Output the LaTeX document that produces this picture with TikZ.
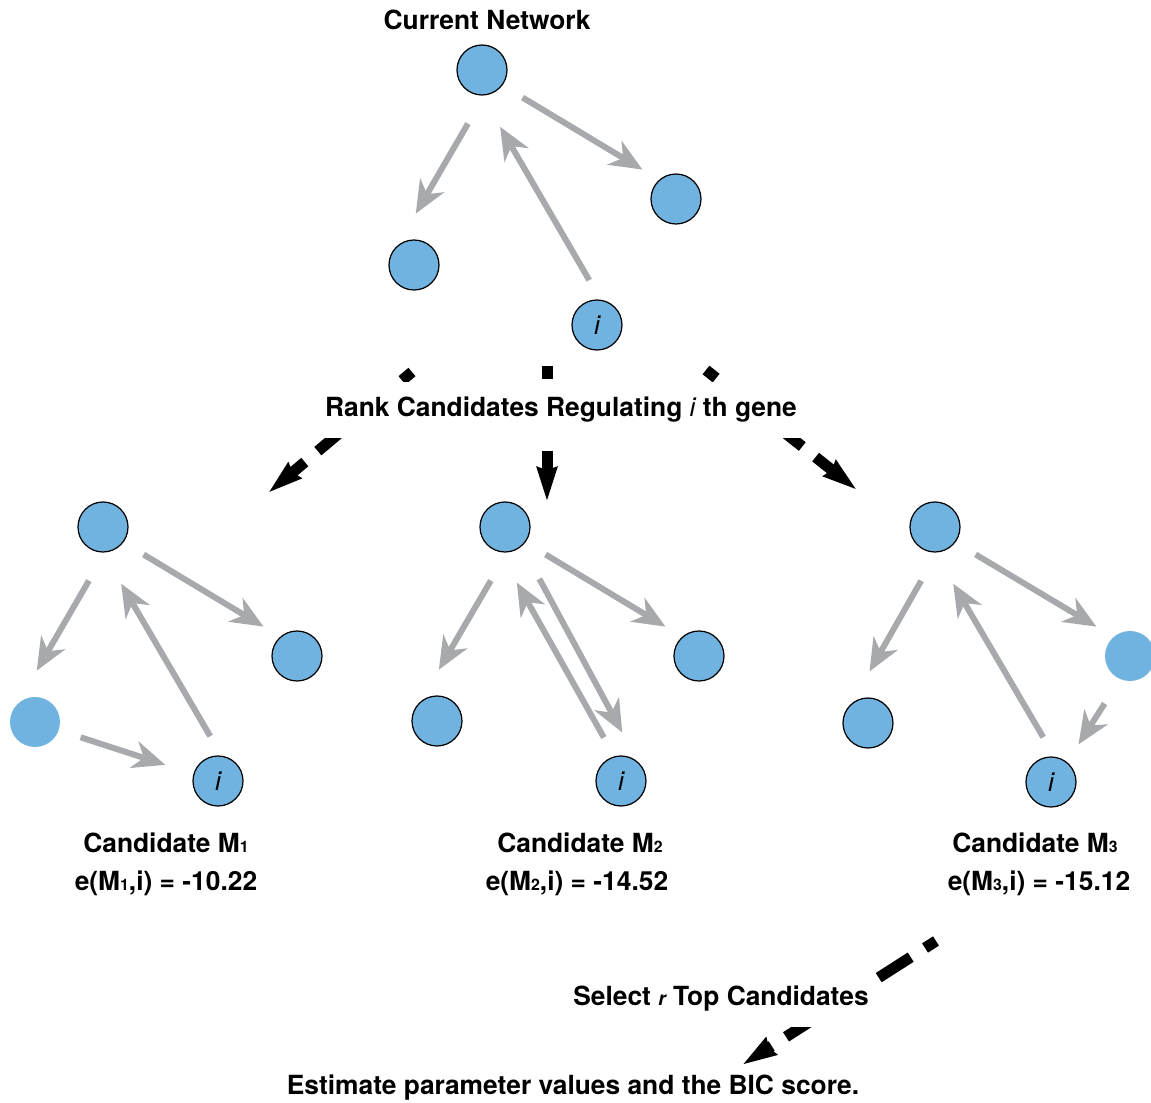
\documentclass[tikz,border=0pt]{standalone}
\usepackage{fontspec}
\setmainfont{TeX Gyre Heros}
\usetikzlibrary{arrows.meta}
\definecolor{geneblue}{RGB}{113,179,224}
\definecolor{linkgray}{RGB}{167,169,172}
\newcommand{\msub}[1]{{\fontsize{9}{9}\selectfont #1}}
\tikzset{> = {Stealth[length=0.65cm,width=0.55cm,inset=0.2cm]}, every picture/.style={line width=0.7pt}}

\begin{document}
\begin{tikzpicture}[font=\fontsize{15}{18}\selectfont\bfseries]
\useasboundingbox (0,0) rectangle (23.02,-22.06);

\begin{scope}[every node/.style={circle,draw,fill=geneblue,minimum size=1cm,inner sep=0pt,font=\fontsize{15}{18}\selectfont\mdseries\itshape}]
% current network
\node (A) at (9.64,-1.40) {};
\node (B) at (13.52,-3.98) {};
\node (C) at (8.28,-5.30) {};
\node (I) at (11.94,-6.50) {i};
% candidate M1
\node (T1) at (2.06,-10.54) {};
\node (R1) at (5.94,-13.12) {};
\node[draw=none] (L1) at (0.70,-14.44) {};
\node (I1) at (4.36,-15.62) {i};
% candidate M2
\node (T2) at (10.10,-10.54) {};
\node (R2) at (13.98,-13.12) {};
\node (L2) at (8.74,-14.42) {};
\node (I2) at (12.42,-15.62) {i};
% candidate M3
\node (T3) at (18.70,-10.54) {};
\node[draw=none] (R3) at (22.60,-13.12) {};
\node (L3) at (17.36,-14.46) {};
\node (I3) at (21.02,-15.64) {i};
\end{scope}

\begin{scope}[every edge/.style={draw=linkgray,line width=0.12cm}]
    \path [->,shorten <=0.65cm,shorten >=0.74cm] (A.275) edge (C.131) (T1.275) edge (L1.131) (T2.275) edge (L2.131) (T3.275) edge (L3.131);
    \path [->,shorten <=0.47cm,shorten >=0.39cm] (A.323) edge (B.131) (T1.323) edge (R1.131) (T2.323) edge (R2.131) (T3.323) edge (R3.131);
    \path [->,shorten <=0.45cm,shorten >=0.72cm] (I.82) edge (A.270) (I1.82) edge (T1.270) (I3.82) edge (T3.270);
    \path [->,shorten <=0.45cm,shorten >=0.59cm] (L1.341) edge (I1.164);
    \path [->,shorten <=0.43cm,shorten >=0.70cm] (I2.105) edge (T2.258);
    \path [->,shorten <=0.74cm,shorten >=0.67cm] (T2.311) edge (I2.48);
    \path [->,shorten <=0.57cm,shorten >=0.42cm] (R3.247) edge (I3.51);
\end{scope}

% dashed steps
\coordinate (s1) at (8.24,-7.44);
\coordinate (e1) at (5.36,-9.86);
\coordinate (s2) at (10.94,-7.32);
\coordinate (e2) at (10.94,-10.04);
\coordinate (s3) at (14.12,-7.40);
\coordinate (e3) at (17.14,-9.80);
\coordinate (s4) at (18.72,-18.82);
\coordinate (e4) at (14.84,-21.30);
\begin{scope}[every edge/.style={draw,line width=0.22cm,dash pattern=on 0.76cm off 0.34cm,dash phase=0.5cm}]
    \path [-{Stealth[length=0.68cm,width=0.38cm,inset=0.04cm]}] (s1) edge (e1) (s2) edge (e2) (s3) edge (e3) (s4) edge (e4);
\end{scope}

% labels
\node (title) at (9.74,-0.40) {Current Network};
\node[fill=white,inner ysep=0.3cm] (rank) at (11.22,-8.20) {Rank Candidates Regulating\ {\mdseries\itshape i}\ th gene};
\node (cand1) at (3.32,-16.86) {Candidate M\msub{1}};
\node (score1) at (3.32,-17.66) {e(M\msub{1},i) = -10.22};
\node (cand2) at (11.60,-16.86) {Candidate M\msub{2}};
\node (score2) at (11.54,-17.66) {e(M\msub{2},i) = -14.52};
\node (cand3) at (20.70,-16.86) {Candidate M\msub{3}};
\node (score3) at (20.78,-17.66) {e(M\msub{3},i) = -15.12};
\node[fill=white,inner ysep=0.3cm] (select) at (14.42,-19.98) {Select\ {\fontsize{11}{11}\selectfont\itshape r}\ Top Candidates};
\node (estimate) at (11.46,-21.76) {Estimate parameter values and the BIC score.};
\end{tikzpicture}
\end{document}
